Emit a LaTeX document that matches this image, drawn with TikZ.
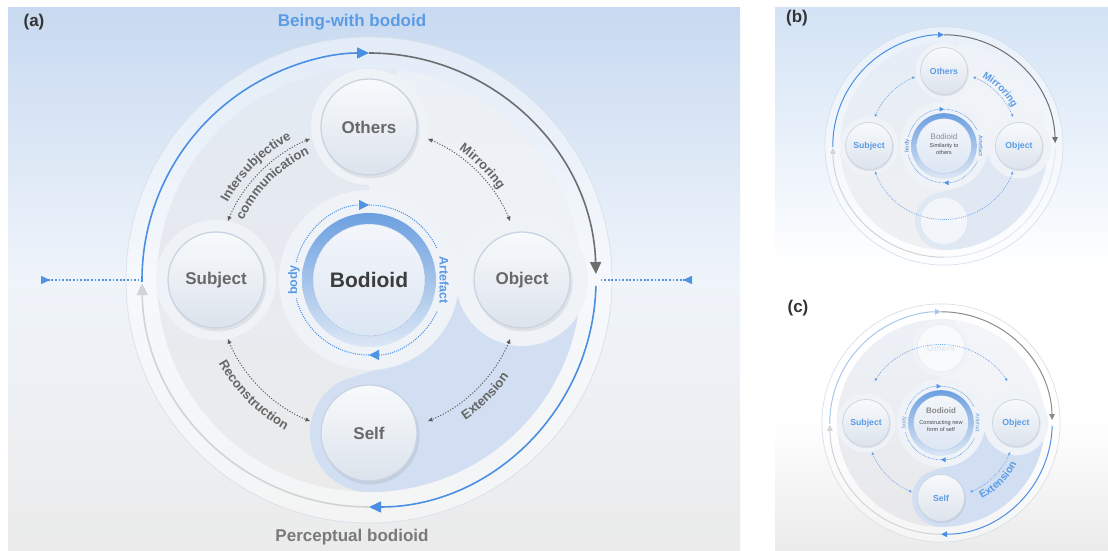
\documentclass[tikz,border=0pt]{standalone}
\usepackage{fontspec}
\setmainfont{Liberation Sans}
\usetikzlibrary{arrows.meta,decorations.text}
\definecolor{bgtop}{HTML}{C8DAF1}
\definecolor{bgmid}{HTML}{EFF4FA}
\definecolor{bgbot}{HTML}{EBEBEB}
\definecolor{bgbtop}{HTML}{D3E3F5}
\definecolor{ringblue}{HTML}{4A8FE3}
\definecolor{ringpale}{HTML}{A9C7EC}
\definecolor{ringdark}{HTML}{6E6E6E}
\definecolor{ringgray}{HTML}{8C8C8C}
\definecolor{ringlight}{HTML}{D0D3D8}
\definecolor{ringfaint}{HTML}{E4E9F0}
\definecolor{ringedge}{HTML}{D8E0EA}
\definecolor{labgray}{HTML}{666666}
\definecolor{nodetxt}{HTML}{686868}
\definecolor{bluetxt}{HTML}{5B9BE6}
\definecolor{bodtxt}{HTML}{3C3C3C}
\definecolor{conngray}{HTML}{5A5A5A}
\definecolor{connblue}{HTML}{6AA2E6}
\definecolor{nodetop}{HTML}{F8FAFC}
\definecolor{nodebot}{HTML}{DCE3EC}
\definecolor{nodeedge}{HTML}{C9D4E2}
\definecolor{halo}{HTML}{EFF3F8}
\definecolor{lobe}{HTML}{D2DFF2}
\definecolor{lobeb}{HTML}{E0E8F4}
\definecolor{intop}{HTML}{E3EAF3}
\definecolor{inbot}{HTML}{EBEBEC}
\definecolor{intopb}{HTML}{E6EDF6}
\definecolor{inbotb}{HTML}{EFF0F2}
\definecolor{intopc}{HTML}{EDF1F7}
\definecolor{inbotc}{HTML}{E8E8EA}
\definecolor{bringtop}{HTML}{6C9FE0}
\definecolor{bringbot}{HTML}{DCE7F5}
\definecolor{bintop}{HTML}{F3F6FB}
\definecolor{binbot}{HTML}{DCE6F3}
\definecolor{bindot}{HTML}{9FB9DC}
\definecolor{bluedot}{HTML}{4F93E4}
\definecolor{darktxt}{HTML}{333333}
\definecolor{titlegray}{HTML}{7A7A7A}
\definecolor{faintxt}{HTML}{E3E9F1}
\definecolor{bodlight}{HTML}{8A8A8A}
\definecolor{bodsmall}{HTML}{4A4A4A}
\definecolor{bodyblue}{HTML}{6F9ED8}

\tikzset{
  RTa/.tip={Triangle[length=12pt,width=11pt]},
  RTb/.tip={Triangle[length=6pt,width=5.5pt]},
  CTa/.tip={Latex[length=5pt,width=4.5pt]},
  CTb/.tip={Latex[length=3.2pt,width=3pt]},
  BDa/.tip={Triangle[length=10pt,width=10pt]},
  BDb/.tip={Triangle[length=4.5pt,width=4.5pt]},
  ringline/.style={line width=1.6pt},
  conn/.style={draw=conngray, line width=0.9pt, dash pattern=on 1.2pt off 1.6pt},
  bdot/.style={draw=bluedot, line width=1.1pt, dash pattern=on 1pt off 1.2pt},
  hdot/.style={draw=bluedot, line width=1.5pt, dash pattern=on 1.8pt off 1.8pt},
  nodeline/.style={draw=nodeedge, line width=1.3pt},
  binline/.style={draw=bindot, line width=.6pt, dash pattern=on .8pt off 1pt},
  nlab/.style={font=\fontsize{17}{17}\selectfont\bfseries, text=nodetxt, inner sep=1pt},
  title/.style={font=\fontsize{17}{17}\selectfont\bfseries, inner sep=1pt},
  small/.style={inner sep=0.3pt},
}

\newcommand\NodeC[1]{%
  \fill[black,opacity=.07] #1 ++(1.5,-2.5) circle (49);
  \shade[top color=nodetop,bottom color=nodebot] #1 circle (48);
  \draw[nodeline] #1 circle (48);}
\newcommand\Lobe[1]{%
  \fill[#1] (-9.3:212) arc[start angle=-9.3,end angle=-90,radius=212]
    arc[start angle=-90,end angle=-235,radius=59]
    .. controls +(35:12) and +(201:12) .. (-69:88) -- (0,0) -- (153,0) -- cycle;}
\newcommand\Wedge{%
  \fill[white,opacity=.35] (0,153) -- (82:212) arc[start angle=82,end angle=8,radius=212] -- (153,0) -- (0,0) -- cycle;}
\newcommand\Halos{%
  \fill[halo] (0,153) circle (58) (-153,0) circle (60) (153,0) circle (66) (0,0) circle (90);}
\newcommand\BCore{%
  \shade[top color=bringtop,bottom color=bringbot] (0,0) circle (67);
  \shade[top color=bintop,bottom color=binbot] (0,0) circle (56);
  \draw[binline] (0,0) circle (56);}
\newcommand\BDots[1]{%
  \draw[bdot,-#1] (166:75) arc[start angle=166,end angle=90,radius=75];
  \draw[bdot] (90:75) arc[start angle=90,end angle=25,radius=75];
  \draw[bdot,-#1] (-25:75) arc[start angle=-25,end angle=-90,radius=75];
  \draw[bdot] (-90:75) arc[start angle=-90,end angle=-166,radius=75];}
\newcommand\DiscBase[2]{%
  \fill[white, fill opacity=.45] (0,0) circle (243);
  \draw[ringedge, line width=.7pt] (0,0) circle (243);
  \shade[top color=#1, bottom color=#2] (0,0) circle (212);}

\begin{document}
\begin{tikzpicture}[x=1pt,y=1pt]
\useasboundingbox (0,0) rectangle (1108,551);
\fill[white] (0,0) rectangle (1108,551);
% panel backgrounds
\shade[top color=bgtop, bottom color=bgbot, middle color=bgmid] (8,0) rectangle (740,543);
\shade[top color=bgbtop, bottom color=white] (775,281) rectangle (1108,543);
\shade[top color=white, bottom color=bgbot, middle color=white] (775,0) rectangle (1108,261);

% ================= panel (a) =================
\begin{scope}[shift={(369,271)}]
  \DiscBase{intop}{inbot}
  \Wedge
  \Lobe{lobe}
  \Halos
  \NodeC{(0,153)} \NodeC{(-153,0)} \NodeC{(153,0)} \NodeC{(0,-153)}
  \node[nlab] (aO) at (0,153) {Others};
  \node[nlab] (aSu) at (-153,0) {Subject};
  \node[nlab] (aOb) at (153,0) {Object};
  \node[nlab] (aSe) at (0,-153) {Self};
  \BCore
  \BDots{BDa}
  \node[small, rotate=90, font=\fontsize{12.5}{12.5}\selectfont\bfseries, text=bluetxt] (abody) at (180:75) {body};
  \node[small, rotate=-90, font=\fontsize{12.5}{12.5}\selectfont\bfseries, text=bluetxt] (aart) at (0:75) {Artefact};
  \node[small, font=\fontsize{21}{21}\selectfont\bfseries, text=bodtxt] (aB) at (0,0) {Bodioid};
  % ring
  \draw[ringline, ringblue, -RTa] (180.5:227) arc[start angle=180.5,end angle=90,radius=227];
  \draw[ringline, ringdark, -RTa] (90:227) arc[start angle=90,end angle=1.5,radius=227];
  \draw[ringline, ringblue, -RTa] (-1.5:227) arc[start angle=-1.5,end angle=-90,radius=227];
  \draw[ringline, ringlight, -RTa] (-90:227) arc[start angle=-90,end angle=-179.2,radius=227];
  % connectors
  \draw[conn,CTa-CTa] (157.5:153) arc[start angle=157.5,end angle=112.5,radius=153];
  \draw[conn,CTa-CTa] (67.5:153) arc[start angle=67.5,end angle=22.5,radius=153];
  \draw[conn,CTa-CTa] (-22.5:153) arc[start angle=-22.5,end angle=-67.5,radius=153];
  \draw[conn,CTa-CTa] (202.5:153) arc[start angle=202.5,end angle=247.5,radius=153];
  \path[decorate,decoration={text along path,text align=center,text={|\fontsize{13}{13}\selectfont\bfseries\color{labgray}|Intersubjective}}] (165:161) arc[start angle=165,end angle=105,radius=161];
  \path[decorate,decoration={text along path,text align=center,text={|\fontsize{13}{13}\selectfont\bfseries\color{labgray}|communication}}] (168:139) arc[start angle=168,end angle=102,radius=139];
  \path[decorate,decoration={text along path,text align=center,text={|\fontsize{13}{13}\selectfont\bfseries\color{labgray}|Mirroring}}] (75:158) arc[start angle=75,end angle=15,radius=158];
  \path[decorate,decoration={text along path,text align=center,text={|\fontsize{13}{13}\selectfont\bfseries\color{labgray}|Reconstruction}}] (190:172) arc[start angle=190,end angle=260,radius=172];
  \path[decorate,decoration={text along path,text align=center,text={|\fontsize{13}{13}\selectfont\bfseries\color{labgray}|Extension}}] (-80:170) arc[start angle=-80,end angle=-10,radius=170];
  % horizontal dotted
  \coordinate (aL1) at (-328,0); \coordinate (aL2) at (-231,0);
  \coordinate (aR1) at (323,0); \coordinate (aR2) at (232,0);
  \draw[hdot,{Triangle[length=9pt,width=8pt,reversed]}-] (aL1) -- (aL2);
  \draw[hdot,{Triangle[length=9pt,width=8pt,reversed]}-] (aR1) -- (aR2);
\end{scope}
\node[title, text=bluetxt] (tA) at (352,529) {Being-with bodoid};
\node[title, text=titlegray] (tP) at (352,14) {Perceptual bodioid};
\node[title, text=darktxt] (la) at (34,529) {(a)};

% ================= panel (b) =================
\begin{scope}[shift={(944,405)}, scale=0.49,
  ringline/.style={line width=1pt},
  conn/.style={draw=connblue, line width=.7pt, dash pattern=on .8pt off 1.1pt},
  bdot/.style={draw=bluedot, line width=.6pt, dash pattern=on .6pt off .8pt},
  nodeline/.style={draw=nodeedge, line width=.7pt},
  binline/.style={draw=bindot, line width=.4pt, dash pattern=on .5pt off .6pt},
  nlab/.style={font=\fontsize{8.7}{8.7}\selectfont\bfseries, text=bluetxt, inner sep=0.5pt}]
  \DiscBase{intopb}{inbotb}
  \Wedge
  \Lobe{lobeb}
  \Halos
  \NodeC{(0,153)} \NodeC{(-153,0)} \NodeC{(153,0)}
  \fill[white,opacity=.6] (0,-153) circle (48);
  \draw[nodeedge,opacity=.3,line width=.5pt] (0,-153) circle (48);
  \node[nlab] (bO) at (0,153) {Others};
  \node[nlab] (bSu) at (-153,0) {Subject};
  \node[nlab] (bOb) at (153,0) {Object};
  \BCore
  \BDots{BDb}
  \node[small, rotate=90, font=\fontsize{5.5}{5.5}\selectfont\bfseries, text=bodyblue] (bbody) at (180:75) {body};
  \node[small, rotate=-90, font=\fontsize{5.5}{5.5}\selectfont\bfseries, text=bodyblue] (bart) at (0:75) {Artefact};
  \node[small, font=\fontsize{8}{8}\selectfont, text=bodlight] (bB) at (0,20) {Bodioid};
  \node[small, font=\fontsize{5.6}{5.6}\selectfont, text=bodsmall] (bS1) at (0,0) {Similarity to};
  \node[small, font=\fontsize{5.6}{5.6}\selectfont, text=bodsmall] (bS2) at (0,-14) {others};
  \draw[ringline, ringblue, -RTb] (180.5:227) arc[start angle=180.5,end angle=90,radius=227];
  \draw[ringline, ringdark, -RTb] (90:227) arc[start angle=90,end angle=1.5,radius=227];
  \draw[ringline, ringfaint] (-1.5:227) arc[start angle=-1.5,end angle=-90,radius=227];
  \draw[ringline, ringlight, -RTb] (-90:227) arc[start angle=-90,end angle=-179,radius=227];
  \draw[conn,CTb-CTb] (157.5:153) arc[start angle=157.5,end angle=112.5,radius=153];
  \draw[conn,CTb-CTb] (67.5:153) arc[start angle=67.5,end angle=22.5,radius=153];
  \draw[conn,CTb-CTb] (200:150) arc[start angle=200,end angle=340,radius=150];
  \path[decorate,decoration={text along path,text align=center,text={|\fontsize{10}{10}\selectfont\bfseries\color{bluetxt}|Mirroring}}] (80:160) arc[start angle=80,end angle=10,radius=160];
\end{scope}
\node[title, text=darktxt] (lb) at (797,533) {(b)};

% ================= panel (c) =================
\begin{scope}[shift={(941,128)}, scale=0.49,
  ringline/.style={line width=1pt},
  conn/.style={draw=connblue, line width=.7pt, dash pattern=on .8pt off 1.1pt},
  bdot/.style={draw=bluedot, line width=.6pt, dash pattern=on .6pt off .8pt},
  nodeline/.style={draw=nodeedge, line width=.7pt},
  binline/.style={draw=bindot, line width=.4pt, dash pattern=on .5pt off .6pt},
  nlab/.style={font=\fontsize{8.7}{8.7}\selectfont\bfseries, text=bluetxt, inner sep=0.5pt}]
  \DiscBase{intopc}{inbotc}
  \Wedge
  \Lobe{lobe}
  \Halos
  \NodeC{(-153,0)} \NodeC{(153,0)} \NodeC{(0,-153)}
  \fill[white,opacity=.6] (0,153) circle (48);
  \draw[nodeedge,opacity=.3,line width=.5pt] (0,153) circle (48);
  \node[font=\fontsize{8.7}{8.7}\selectfont\bfseries, text=faintxt, inner sep=0.5pt] (cO) at (0,153) {Others};
  \node[nlab] (cSu) at (-153,0) {Subject};
  \node[nlab] (cOb) at (153,0) {Object};
  \node[nlab] (cSe) at (0,-153) {Self};
  \BCore
  \BDots{BDb}
  \node[small, rotate=90, font=\fontsize{5.5}{5.5}\selectfont, text=bodyblue] (cbody) at (180:75) {body};
  \node[small, rotate=-90, font=\fontsize{5.5}{5.5}\selectfont, text=bodyblue] (cart) at (0:75) {Artefact};
  \node[small, font=\fontsize{8}{8}\selectfont\bfseries, text=bodlight] (cB) at (0,25) {Bodioid};
  \node[small, font=\fontsize{5.6}{5.6}\selectfont, text=bodsmall] (cS1) at (0,0) {Constructing new};
  \node[small, font=\fontsize{5.6}{5.6}\selectfont, text=bodsmall] (cS2) at (0,-13.5) {form of self};
  \draw[ringline, ringpale, -RTb] (180.5:227) arc[start angle=180.5,end angle=90,radius=227];
  \draw[ringline, ringgray, -RTb] (90:227) arc[start angle=90,end angle=1.5,radius=227];
  \draw[ringline, ringblue, -RTb] (-1.5:227) arc[start angle=-1.5,end angle=-90,radius=227];
  \draw[ringline, ringlight, -RTb] (-90:227) arc[start angle=-90,end angle=-179,radius=227];
  \draw[conn,CTb-CTb] (202.5:153) arc[start angle=202.5,end angle=247.5,radius=153];
  \draw[conn,CTb-CTb] (-67.5:153) arc[start angle=-67.5,end angle=-22.5,radius=153];
  \draw[conn,CTb-CTb] (148:160) arc[start angle=148,end angle=32,radius=160];
  \path[decorate,decoration={text along path,text align=center,text={|\fontsize{10.5}{10.5}\selectfont\bfseries\color{bluetxt}|Extension}}] (-85:176) arc[start angle=-85,end angle=-5,radius=176];
\end{scope}
\node[title, text=darktxt] (lc) at (798,243) {(c)};
\end{tikzpicture}
\end{document}
